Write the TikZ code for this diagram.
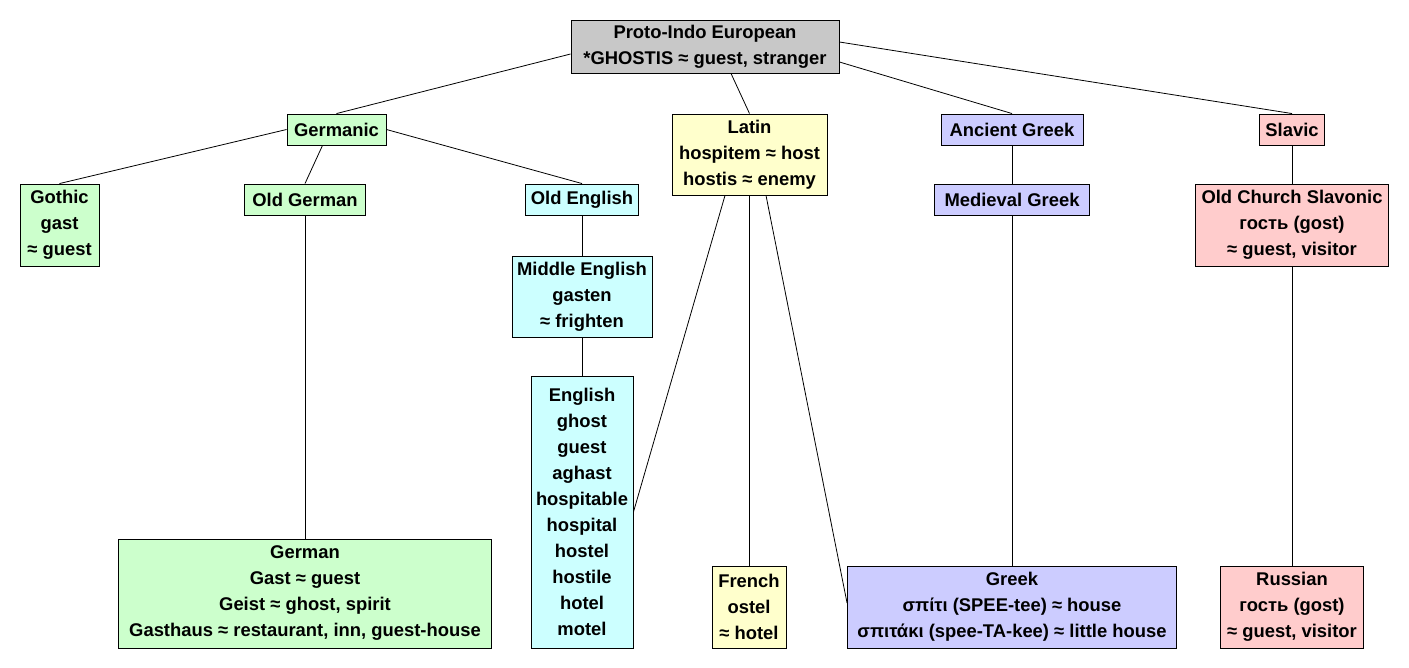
\documentclass[tikz,border=0pt]{standalone}
\usepackage{fontspec}
\setmainfont{Liberation Sans}
\usepackage{tikz}
\usetikzlibrary{positioning}

\definecolor{pieGray}{RGB}{200,200,200}
\definecolor{gerGreen}{RGB}{204,255,204}
\definecolor{engCyan}{RGB}{204,255,255}
\definecolor{latYellow}{RGB}{255,255,204}
\definecolor{grkBlue}{RGB}{204,204,255}
\definecolor{slvPink}{RGB}{255,204,204}

\begin{document}
\begin{tikzpicture}[
    x=1pt, y=-1pt,
    langnode/.style={draw, line width=0.9pt, inner sep=0pt, align=center,
        font=\bfseries\fontsize{18.4}{26}\selectfont},
    conn/.style={black, line width=0.8pt}
]
\useasboundingbox (0,0) rectangle (1409,667);

% Y rows
\def\yA{46.5}
\def\yB{129.5}
\def\yC{199.5}
\def\yD{225}
\def\yE{607}

% ---------- Root ----------
\node[langnode, fill=pieGray, minimum width=268pt, minimum height=53pt] (PIE) at (705,\yA)
    {Proto-Indo European\\*GHOSTIS ≈ guest, stranger};

% ---------- Branches ----------
\node[langnode, fill=gerGreen, minimum width=99pt, minimum height=31pt] (Germanic) at (336.5,\yB) {Germanic};
\node[langnode, fill=latYellow, minimum width=155pt, minimum height=81pt] (Latin) at (749.5,154.5)
    {Latin\\hospitem ≈ host\\hostis ≈ enemy};
\node[langnode, fill=grkBlue, minimum width=142pt, minimum height=31pt] (AncGreek) at (1012,\yB) {Ancient Greek};
\node[langnode, fill=slvPink, minimum width=65pt, minimum height=31pt] (Slavic) at (1292,\yB) {Slavic};

% ---------- Germanic ----------
\node[langnode, fill=gerGreen, minimum width=79pt, minimum height=82pt] (Gothic) at (59.5,\yD)
    {Gothic\\gast\\≈ guest};
\node[langnode, fill=gerGreen, minimum width=121pt, minimum height=31pt] (OldGerman) at (305,\yC) {Old German};
\node[langnode, fill=engCyan, minimum width=113pt, minimum height=31pt] (OldEnglish) at (582,\yC) {Old English};
\node[langnode, fill=engCyan, minimum width=140pt, minimum height=81pt] (MidEnglish) at (582,296.5)
    {Middle English\\gasten\\≈ frighten};
\node[langnode, fill=engCyan, minimum width=102pt, minimum height=272pt] (English) at (582,512)
    {English\\ghost\\guest\\aghast\\hospitable\\hospital\\hostel\\hostile\\hotel\\motel};
\node[langnode, fill=gerGreen, minimum width=373pt, minimum height=109pt] (German) at (305,593.5)
    {German\\Gast ≈ guest\\Geist ≈ ghost, spirit\\Gasthaus ≈ restaurant, inn, guest-house};

% ---------- Latin ----------
\node[langnode, fill=latYellow, minimum width=74pt, minimum height=82pt] (French) at (749,\yE)
    {French\\ostel\\≈ hotel};

% ---------- Greek ----------
\node[langnode, fill=grkBlue, minimum width=155pt, minimum height=31pt] (MedGreek) at (1012,\yC) {Medieval Greek};
\node[langnode, fill=grkBlue, minimum width=329pt, minimum height=82pt] (Greek) at (1012,\yE)
    {Greek\\σπίτι (SPEE-tee) ≈ house\\σπιτάκι (spee-TA-kee) ≈ little house};

% ---------- Slavic ----------
\node[langnode, fill=slvPink, minimum width=193pt, minimum height=82pt] (OCS) at (1292,\yD)
    {Old Church Slavonic\\гость (gost)\\≈ guest, visitor};
\node[langnode, fill=slvPink, minimum width=143pt, minimum height=82pt] (Russian) at (1292,\yE)
    {Russian\\гость (gost)\\≈ guest, visitor};

% ---------- Connections ----------
\draw[conn] ([yshift=-7.5pt]PIE.west) -- (Germanic.north);
\draw[conn] ([xshift=26pt]PIE.south) -- (Latin.north);
\draw[conn] ([yshift=-15.5pt]PIE.east) -- (AncGreek.north);
\draw[conn] ([yshift=4.5pt]PIE.east) -- (Slavic.north);

\draw[conn] (Germanic.west) -- (Gothic.north);
\draw[conn] ([xshift=-14pt]Germanic.south) -- (OldGerman.north);
\draw[conn] (Germanic.east) -- (OldEnglish.north);
\draw[conn] (OldGerman) -- (German);
\draw[conn] (OldEnglish) -- (MidEnglish);
\draw[conn] (MidEnglish) -- (English);

\draw[conn] ([xshift=-24.5pt]Latin.south) -- (English.east);
\draw[conn] (French.north |- Latin.south) -- (French.north);
\draw[conn] ([xshift=16.5pt]Latin.south) -- ([yshift=4pt]Greek.west);

\foreach \a/\b in {AncGreek/MedGreek, MedGreek/Greek, Slavic/OCS, OCS/Russian}
    \draw[conn] (\a) -- (\b);

\end{tikzpicture}
\end{document}
